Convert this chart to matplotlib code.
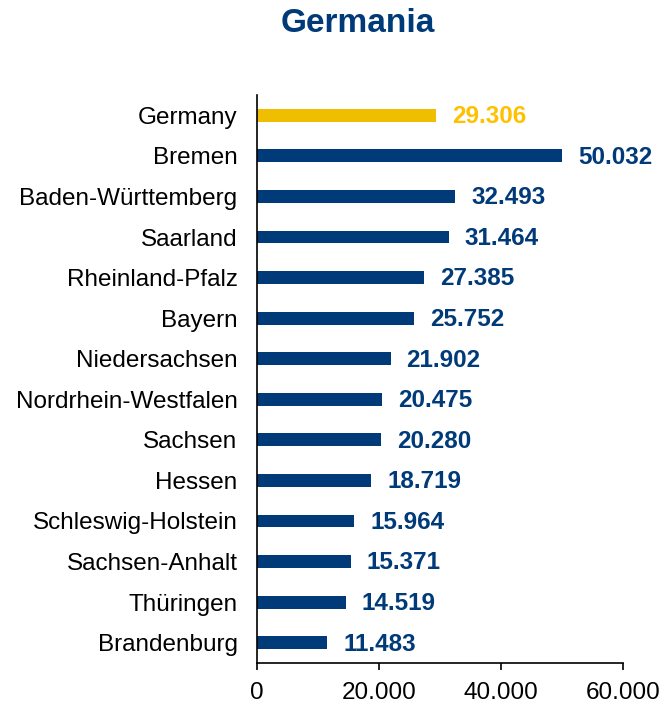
import matplotlib
matplotlib.use("Agg")
import matplotlib.pyplot as plt

plt.rcParams['font.family'] = ['Liberation Sans', 'DejaVu Sans']

categories = ["Germany", "Bremen", "Baden-Württemberg", "Saarland", "Rheinland-Pfalz",
              "Bayern", "Niedersachsen", "Nordrhein-Westfalen", "Sachsen", "Hessen",
              "Schleswig-Holstein", "Sachsen-Anhalt", "Thüringen", "Brandenburg"]
values = [29306, 50032, 32493, 31464, 27385, 25752, 21902, 20475, 20280, 18719,
          15964, 15371, 14519, 11483]
value_labels = ["29.306", "50.032", "32.493", "31.464", "27.385", "25.752", "21.902",
                "20.475", "20.280", "18.719", "15.964", "15.371", "14.519", "11.483"]
xticks = [0, 20000, 40000, 60000]
xtick_labels = ["0", "20.000", "40.000", "60.000"]

navy = "#003A78"
bar_yellow = "#F0BE00"
label_yellow = "#FFC000"

fig = plt.figure(figsize=(6.63, 7.04), dpi=100)
ax = fig.add_axes([257/663, 41/704, 366/663, 568/704])

pos = list(range(len(categories)))
colors = [bar_yellow] + [navy] * (len(categories) - 1)
ax.barh(pos, values, height=0.32, color=colors)
for p, v, lab, c in zip(pos, values, value_labels, colors):
    tc = label_yellow if c == bar_yellow else navy
    ax.annotate(lab, (v, p), xytext=(11.5, -1), textcoords="offset points",
                ha="left", va="center", fontsize=17.5, fontweight="bold", color=tc)

ax.set_ylim(len(categories) - 0.5, -0.5)
ax.set_xlim(0, 60000)
ax.set_yticks(pos)
ax.set_yticklabels(categories, fontsize=17.5)
ax.set_xticks(xticks)
ax.set_xticklabels(xtick_labels, fontsize=17.5)
ax.tick_params(axis="y", length=0, pad=14)
ax.tick_params(axis="x", length=5, width=1.2, pad=9, direction="out")
for s in ["top", "right"]:
    ax.spines[s].set_visible(False)
for s in ["left", "bottom"]:
    ax.spines[s].set_linewidth(1.2)
    ax.spines[s].set_color("black")

fig.text(358/663, 1 - 23/704, "Germania", ha="center", va="center",
         fontsize=24, fontweight="bold", color=navy)

fig.savefig("out.png", dpi=100)
